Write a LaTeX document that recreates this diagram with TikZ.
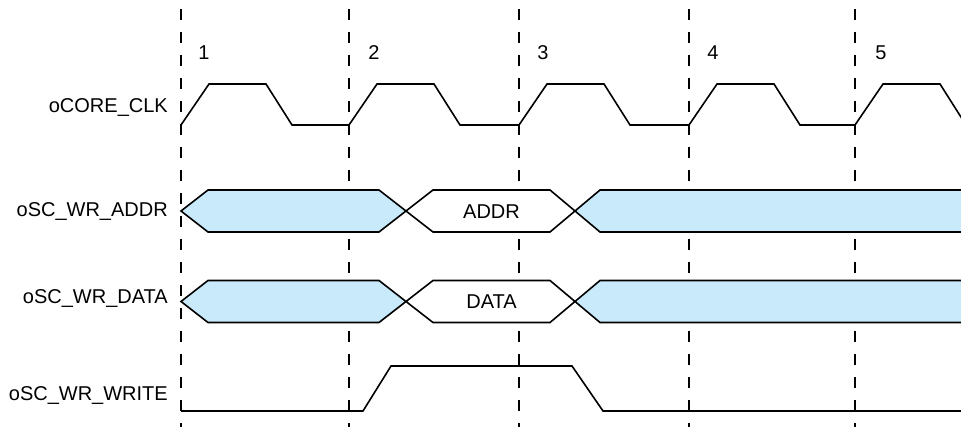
\documentclass[tikz,border=0pt]{standalone}
\usepackage{fontspec}
\setmainfont{Liberation Sans}
\usetikzlibrary{positioning}
\definecolor{busblue}{RGB}{200,234,250}

\begin{document}
\begin{tikzpicture}[
  x=1pt, y=-1pt,
  font=\fontsize{20}{24}\selectfont,
  wave/.style={line width=1.6pt, line join=miter},
  busfill/.style={wave, fill=busblue},
  busvalue/.style={wave, fill=white},
  cycleline/.style={line width=1.8pt, dash pattern=on 11pt off 12pt},
  siglabel/.style={anchor=base east, inner sep=0pt},
  cyclenum/.style={anchor=base, inner sep=0pt},
  buslabel/.style={anchor=base, inner sep=0pt}
]
\useasboundingbox (0,0) rectangle (961,427);
\clip (0,0) rectangle (961,427);

% Cycle markers
\draw[cycleline] (181,9) -- (181,427);
\draw[cycleline] (349,9) -- (349,427);
\draw[cycleline] (519,9) -- (519,427);
\draw[cycleline] (689,9) -- (689,427);
\draw[cycleline] (855,9) -- (855,427);

\node[cyclenum] (num1) at (204,60) {1};
\node[cyclenum] (num2) at (374,60) {2};
\node[cyclenum] (num3) at (543,60) {3};
\node[cyclenum] (num4) at (713,60) {4};
\node[cyclenum] (num5) at (881,60) {5};

% Signal names
\node[siglabel] (clk_lbl)   at (168,113) {oCORE\_CLK};
\node[siglabel] (addr_lbl)  at (168,217) {oSC\_WR\_ADDR};
\node[siglabel] (data_lbl)  at (168,303.5) {oSC\_WR\_DATA};
\node[siglabel] (write_lbl) at (168,400) {oSC\_WR\_WRITE};

% Clock
\draw[wave] (181,125) -- (209,84) -- (266,84) -- (292,125) -- (349,125)
  -- (377,84) -- (434,84) -- (460,125) -- (519,125)
  -- (547,84) -- (604,84) -- (630,125) -- (689,125)
  -- (717,84) -- (774,84) -- (800,125) -- (855,125)
  -- (883,84) -- (940,84) -- (966,125);

% Address bus
\draw[busfill] (181,211) -- (208,190) -- (379,190) -- (406,211) -- (379,232) -- (208,232) -- cycle;
\draw[busvalue] (406,211) -- (433,190) -- (550,190) -- (575,211) -- (550,232) -- (433,232) -- cycle;
\draw[busfill] (970,190) -- (600,190) -- (575,211) -- (600,232) -- (970,232);
\node[buslabel] (addr_val) at (491.5,218.5) {ADDR};

% Data bus
\draw[busfill] (181,301.5) -- (208,280.5) -- (379,280.5) -- (406,301.5) -- (379,322.5) -- (208,322.5) -- cycle;
\draw[busvalue] (406,301.5) -- (433,280.5) -- (550,280.5) -- (575,301.5) -- (550,322.5) -- (433,322.5) -- cycle;
\draw[busfill] (970,280.5) -- (600,280.5) -- (575,301.5) -- (600,322.5) -- (970,322.5);
\node[buslabel] (data_val) at (491.5,308.5) {DATA};

% Write strobe
\draw[wave] (181,411) -- (363,411) -- (391,366) -- (572,366) -- (603,411) -- (966,411);

\end{tikzpicture}
\end{document}
